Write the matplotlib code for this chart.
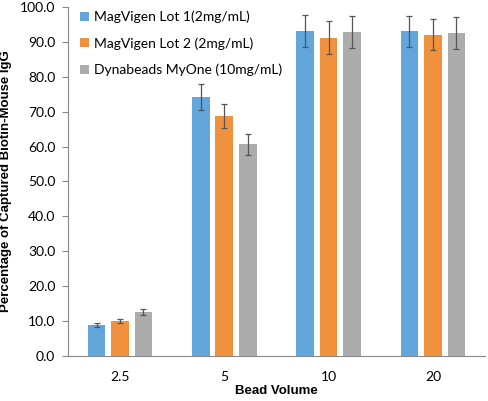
import numpy as np
import matplotlib.pyplot as plt

categories = ["2.5", "5", "10", "20"]
series = ["MagVigen Lot 1(2mg/mL)", "MagVigen Lot 2 (2mg/mL)", "Dynabeads MyOne (10mg/mL)"]
lot1 = [8.9, 74.2, 93.0, 93.0]
lot2 = [10.0, 68.8, 91.2, 92.0]
dyna = [12.7, 60.6, 92.7, 92.6]
lot1_err = [0.5, 3.6, 4.6, 4.5]
lot2_err = [0.6, 3.4, 4.6, 4.5]
dyna_err = [0.8, 3.0, 4.6, 4.6]
colors = ["#62A6DC", "#F0913D", "#ACACAC"]

fig = plt.figure(figsize=(4.88, 4.01), dpi=100)
ax = fig.add_axes([0.139, 0.112, 0.855, 0.871])

x = np.arange(len(categories))
w = 0.17
offs = [-0.225, 0, 0.225]
for vals, errs, c, o, name in zip([lot1, lot2, dyna], [lot1_err, lot2_err, dyna_err], colors, offs, series):
    ax.bar(x + o, vals, w, color=c, label=name, zorder=2)
    ax.errorbar(x + o, vals, yerr=errs, fmt='none', ecolor='#555555',
                elinewidth=0.9, capsize=2.5, capthick=0.9, zorder=3)

ax.set_xlim(-0.5, 3.5)
ax.set_ylim(0, 100)
ax.set_yticks(np.arange(0, 101, 10))
ax.set_yticklabels([f"{v:.1f}" for v in np.arange(0, 101, 10)], fontsize=10, family="Lato")
ax.set_xticks(x)
ax.set_xticklabels(categories, fontsize=10, family="Lato")
ax.tick_params(axis='x', length=0, pad=11)
ax.tick_params(axis='y', length=4, color='#888888', pad=5)
for s in ["top", "right"]:
    ax.spines[s].set_visible(False)
for s in ["left", "bottom"]:
    ax.spines[s].set_color('#888888')
ax.set_ylabel("Percentage of Captured Biotin-Mouse IgG", fontsize=9.5,
              fontweight='bold', family="Liberation Sans", labelpad=6)
ax.set_xlabel("Bead Volume", fontsize=9.5, fontweight='bold', family="Liberation Sans", labelpad=1)

leg = ax.legend(loc='upper left', bbox_to_anchor=(0.0, 1.025), frameon=False,
                handlelength=0.6, handleheight=0.6, handletextpad=0.4,
                labelspacing=1.0, prop={'family': 'Lato', 'size': 10})

fig.savefig("out.png", dpi=100)
